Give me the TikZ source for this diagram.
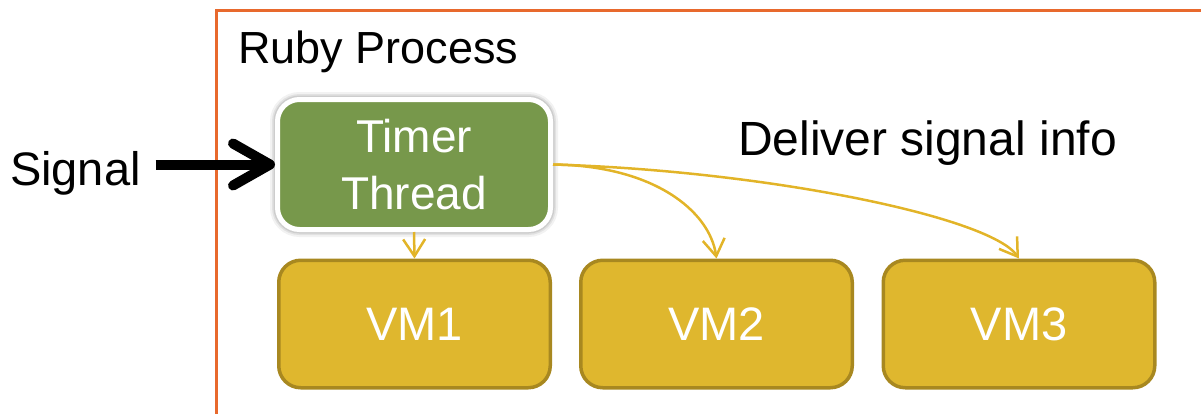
\documentclass[tikz,border=0pt]{standalone}
\usepackage{fontspec}
\setmainfont{Liberation Sans}
\usetikzlibrary{arrows.meta}

\definecolor{frameorange}{RGB}{232,105,45}
\definecolor{timergreen}{RGB}{119,152,75}
\definecolor{vmfill}{RGB}{223,183,46}
\definecolor{vmedge}{RGB}{168,136,32}
\definecolor{flow}{RGB}{226,180,40}

\begin{document}
\begin{tikzpicture}[x=1pt,y=-1pt,
  label/.style={anchor=base west, inner sep=0pt, outer sep=0pt, text=black},
  vmbox/.style={draw=vmedge, line width=3.5pt, fill=vmfill, rounded corners=22pt,
    minimum width=271.5pt, minimum height=127.5pt, inner sep=0pt, text=white,
    font=\fontsize{47}{56}\selectfont},
  timerbox/.style={draw=white, line width=5pt, fill=timergreen, rounded corners=22pt,
    minimum width=273pt, minimum height=130pt, inner sep=0pt, text=white, align=center,
    font=\fontsize{46}{57}\selectfont,
    preaction={draw=black, draw opacity=0.05, line width=15pt},
    preaction={draw=black, draw opacity=0.07, line width=11pt},
    preaction={draw=black, draw opacity=0.09, line width=8pt}},
  flowarrow/.style={draw=flow, line width=2.5pt, -{Straight Barb[length=17pt,width=22pt]}},
  signalarrow/.style={draw=black, line width=10pt, -{Straight Barb[length=37pt,width=42pt,round]}}
]
\useasboundingbox (0,0) rectangle (1201,413);

% process boundary (continues past the right and bottom edges)
\draw[frameorange, line width=3.5pt] (216.5,420) -- (216.5,10.5) -- (1210,10.5);

% labels
\node[label, font=\fontsize{45}{54}\selectfont] (ruby) at (238,63) {Ruby Process};
\node[label, font=\fontsize{47}{56}\selectfont] (signal) at (10,185) {Signal};
\node[label, font=\fontsize{48}{58}\selectfont] (deliver) at (738,155) {Deliver signal info};

% threads and VMs
\node[timerbox] (timer) at (414,164.5) {Timer\\Thread};
\node[vmbox] (vm1) at (414.5,324) {VM1};
\node[vmbox] (vm2) at (716.5,324) {VM2};
\node[vmbox] (vm3) at (1019,324) {VM3};

% incoming signal
\draw[signalarrow, shorten <=15pt] (signal.east |- timer.west) -- (timer.west);

% delivery to each VM
\draw[flowarrow] (timer.south) -- (vm1.north);
\draw[flowarrow] (timer.east) .. controls +(100,1) and +(-7,-48) .. (vm2.north);
\draw[flowarrow] (timer.east) .. controls +(210,6) and +(-29,-42) .. (vm3.north);
\end{tikzpicture}
\end{document}
